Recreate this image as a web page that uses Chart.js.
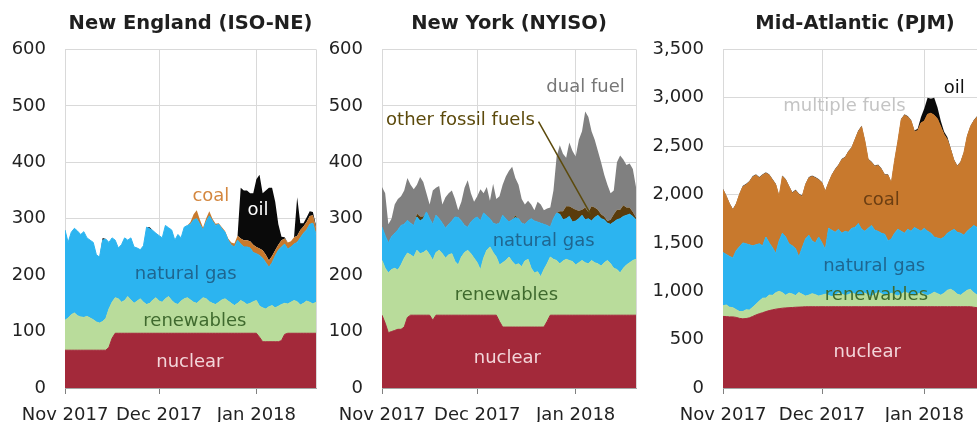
<!DOCTYPE html>
<html>
<head>
<meta charset="utf-8">
<script src="https://cdn.jsdelivr.net/npm/chart.js@4.4.1/dist/chart.umd.min.js"></script>
<style>
  html, body { margin: 0; padding: 0; background: #fff; overflow: hidden; width: 977px; height: 422px; }
  .panel { position: absolute; top: 0; }
</style>
</head>
<body>
<div class="panel" style="left:0px"><canvas id="ne" width="330" height="422"></canvas></div>
<div class="panel" style="left:318px"><canvas id="ny" width="332" height="422"></canvas></div>
<div class="panel" style="left:650px"><canvas id="pjm" width="350" height="422"></canvas></div>
<script>
// daily values, Nov 1 2017 -> Jan 20 2018 (one value per day)
const monthTicks = [0, 30, 61];
const monthLabels = ['Nov 2017', 'Dec 2017', 'Jan 2018'];

// New England (ISO-NE)
const neNuclear = [
  67,67,67,67,67,67,67,67,67,67,
  67,67,67,67,72,88,97,97,97,97,
  97,97,97,97,97,97,97,97,97,97,
  97,97,97,97,97,97,97,97,97,97,
  97,97,97,97,97,97,97,97,97,97,
  97,97,97,97,97,97,97,97,97,97,
  97,97,90,82,82,82,82,82,82,84,
  95,97,97,97,97,97,97,97,97,97,
  97];
const neRenew = [
  53,57,63,66,61,59,58,60,57,54,
  50,48,51,56,68,64,63,61,55,58,
  65,59,53,57,61,55,51,53,59,63,
  57,55,61,65,58,53,51,57,61,63,
  59,55,53,58,63,61,56,53,51,55,
  59,61,57,53,49,53,58,55,51,53,
  56,58,55,60,58,62,64,60,63,64,
  55,52,55,58,56,50,53,57,55,52,
  55];
const neGas = [
  160,134,146,150,150,146,152,139,138,137,
  119,117,144,141,118,114,102,90,102,111,
  100,110,100,94,87,100,137,132,123,114,
  116,114,130,122,125,112,124,112,127,128,
  134,146,150,135,120,137,152,146,140,138,
  126,118,108,103,104,112,100,98,102,98,
  87,83,90,88,82,70,76,92,99,102,
  105,97,98,100,105,119,124,126,138,143,
  120];
const neCoal = [
  0,0,0,0,0,0,0,0,0,0,
  0,0,0,0,0,0,0,0,0,0,
  0,0,0,0,0,0,0,0,0,0,
  0,0,0,0,0,0,0,0,0,0,
  4,10,15,8,4,6,8,4,3,2,
  3,2,3,5,6,8,10,12,12,12,
  14,12,12,14,14,12,12,10,10,12,
  10,12,10,12,12,14,12,14,15,14,
  12];
const neOil = [
  0,0,0,0,0,0,0,0,0,0,
  0,0,4,0,0,0,0,0,0,0,
  0,0,0,0,0,0,0,3,0,0,
  0,0,0,0,0,0,0,0,0,0,
  0,0,0,0,0,0,0,0,0,0,
  0,0,0,0,0,0,90,88,88,85,
  91,120,131,101,114,129,121,86,36,6,
  2,0,0,0,68,12,6,8,8,6,
  4];

// New York (NYISO)
const nyNuclear = [
  129,115,98,100,102,104,104,108,125,129,
  129,129,129,129,129,129,120,129,129,129,
  129,129,129,129,129,129,129,129,129,129,
  129,129,129,129,129,129,129,118,108,108,
  108,108,108,108,108,108,108,108,108,108,
  108,108,118,129,129,129,129,129,129,129,
  129,129,129,129,129,129,129,129,129,129,
  129,129,129,129,129,129,129,129,129,129,
  129];
const nyRenew = [
  97,97,106,110,110,105,114,122,114,107,
  103,115,109,111,115,107,106,111,115,109,
  101,107,109,95,89,103,111,115,109,101,
  93,80,101,115,121,111,103,100,114,118,
  124,116,110,112,107,117,120,104,96,98,
  89,102,102,103,99,97,91,96,99,97,
  95,89,93,97,93,91,97,93,91,87,
  93,97,91,83,81,75,83,89,93,97,
  99];
const nyGas = [
  59,58,53,58,62,71,70,60,58,56,
  56,59,58,60,68,64,64,66,56,54,
  53,54,58,79,84,64,48,41,56,70,
  81,87,80,61,50,52,58,74,84,74,
  62,74,84,80,77,65,68,88,92,88,
  95,80,68,53,72,84,88,73,72,78,
  70,78,78,80,76,80,70,80,86,84,
  76,66,70,82,88,96,92,88,86,78,
  70];
const nyOther = [
  0,0,0,0,0,0,0,0,0,0,
  0,6,8,4,0,0,0,0,0,0,
  0,0,0,0,0,0,0,0,0,0,
  0,0,0,0,0,0,0,0,0,0,
  0,0,4,0,0,0,0,0,0,0,
  0,0,0,0,0,0,5,15,22,18,
  25,20,14,10,22,12,26,18,10,8,
  6,4,8,14,18,16,20,14,12,8,
  4];
const nyDual = [
  71,75,33,32,51,55,52,60,75,68,
  64,51,70,61,33,25,60,49,58,33,
  55,55,54,32,13,34,67,83,51,30,
  37,56,35,51,32,70,45,48,54,75,
  91,94,66,60,43,35,36,25,19,36,
  33,25,30,35,50,100,117,102,86,113,
  101,94,126,139,170,168,133,120,104,92,
  74,64,47,42,84,96,81,75,78,76,
  54];

// Mid-Atlantic (PJM)
const pjmNuclear = [
  740,738,735,735,730,720,715,718,725,740,
  755,768,778,790,800,808,815,820,825,828,
  830,832,835,836,838,840,840,840,840,840,
  840,840,840,840,840,840,840,840,840,840,
  840,840,840,840,840,840,840,840,840,840,
  840,840,840,840,840,840,840,840,840,840,
  840,840,840,840,840,840,840,840,840,840,
  840,840,840,840,840,840,835,830,828,826,
  825];
const pjmRenew = [
  110,120,100,95,80,70,75,90,80,95,
  110,130,150,140,160,150,170,180,160,130,
  150,140,120,150,130,110,120,135,125,110,
  120,130,115,105,120,140,130,115,125,140,
  130,110,125,140,120,105,130,150,135,115,
  120,140,125,110,130,150,140,120,110,130,
  145,125,115,130,150,135,120,140,170,180,
  160,130,120,145,170,180,150,130,160,175,
  160];
const pjmGas = [
  550,522,525,515,610,670,710,682,675,635,
  615,592,542,630,540,492,405,520,615,602,
  510,498,485,369,482,590,620,545,535,610,
  540,460,695,685,650,660,630,665,645,670,
  690,750,675,640,690,735,660,630,625,635,
  560,560,635,690,650,610,660,660,710,670,
  635,685,665,630,570,575,580,580,590,600,
  640,640,640,595,610,630,695,700,652,659,
  695];
const pjmCoal = [
  650,600,540,495,480,540,580,610,650,710,
  720,680,730,660,700,700,710,460,585,590,
  590,542,600,645,528,560,590,665,670,590,
  620,600,470,570,645,660,760,760,830,830,
  906,950,1060,930,710,650,660,680,660,610,
  680,578,750,910,1153,1220,1160,1140,990,1020,
  1120,1110,1210,1240,1260,1230,1160,1060,966,840,
  710,680,730,850,980,1050,1080,1140,1170,1140,
  1110];
const pjmOil = [
  8,8,8,8,8,8,8,8,8,8,
  8,8,8,8,8,8,8,8,8,8,
  8,8,8,8,8,8,8,8,8,8,
  8,8,8,8,8,8,8,8,8,8,
  8,8,8,8,8,8,8,8,8,8,
  8,8,8,8,8,8,8,8,8,20,
  60,130,170,150,180,120,60,30,25,15,
  10,8,8,8,8,8,8,8,8,8,
  8];
const pjmMulti = [
  5,5,5,5,5,5,5,5,5,5,
  5,5,5,5,5,5,5,5,5,5,
  5,5,5,5,5,5,5,5,5,5,
  5,5,5,5,5,5,5,5,5,5,
  5,5,5,5,5,5,5,5,5,5,
  5,5,5,5,5,5,5,5,5,5,
  5,5,5,5,5,5,5,5,5,5,
  5,5,5,5,5,5,5,5,5,5,
  5];

const days = neNuclear.map((v, i) => i);
const lastDay = days.length - 1;

const C = {
  nuclear: '#a3293a', renew: '#b9dc9b', gas: '#2cb4f0', coal: '#c8792d',
  oil: '#0a0a0a', dual: '#808080', other: '#5a3c0c', multi: '#c8c8c8'
};

Chart.defaults.font.family = '"DejaVu Sans", "Liberation Sans", sans-serif';
Chart.defaults.font.size = 18;

function notesPlugin(notes, leader) {
  return {
    id: 'notes',
    afterDatasetsDraw(chart) {
      const ctx = chart.ctx;
      const xs = chart.scales.x, ys = chart.scales.y;
      ctx.save();
      if (leader) {
        ctx.strokeStyle = leader.color;
        ctx.lineWidth = 1.5;
        ctx.beginPath();
        ctx.moveTo(xs.getPixelForValue(leader.from[0]), ys.getPixelForValue(leader.from[1]));
        ctx.lineTo(xs.getPixelForValue(leader.to[0]), ys.getPixelForValue(leader.to[1]));
        ctx.stroke();
      }
      ctx.font = '18px "DejaVu Sans"';
      ctx.textAlign = 'center';
      ctx.textBaseline = 'middle';
      notes.forEach(n => {
        ctx.fillStyle = n.color;
        ctx.fillText(n.text, xs.getPixelForValue(n.day), ys.getPixelForValue(n.value));
      });
      ctx.restore();
    }
  };
}

function makeChart(id, o) {
  const datasets = o.series.map((s, i) => ({
    label: s.label,
    data: s.data,
    backgroundColor: s.color,
    borderColor: s.color,
    borderWidth: s.edge ? 1 : 0,
    fill: i === 0 ? 'origin' : '-1',
    pointRadius: 0,
    tension: 0
  }));
  return new Chart(document.getElementById(id), {
    type: 'line',
    data: { labels: days, datasets: datasets },
    options: {
      responsive: false,
      animation: false,
      layout: { padding: { left: 0, right: o.padRight, top: 0, bottom: 0 } },
      plugins: {
        legend: { display: false },
        tooltip: { enabled: false },
        title: {
          display: true, text: o.title, fullSize: false, color: '#1f1f1f',
          font: { size: 19.5, weight: 'bold' }, padding: { top: 12, bottom: 14 }
        }
      },
      scales: {
        x: {
          type: 'linear', min: 0, max: lastDay,
          afterBuildTicks: s => { s.ticks = monthTicks.map(v => ({ value: v })).concat([{ value: lastDay }]); },
          afterFit: s => { s.height = 34; },
          grid: {
            color: '#d9d9d9', tickLength: 6,
            tickColor: c => (c.tick && c.tick.value === lastDay) ? 'rgba(0,0,0,0)' : '#808080'
          },
          border: { display: true, color: '#a6a6a6' },
          ticks: {
            autoSkip: false, maxRotation: 0, padding: 11, color: '#222',
            callback: v => { const k = monthTicks.indexOf(v); return k >= 0 ? monthLabels[k] : ''; }
          }
        },
        y: {
          stacked: true, min: 0, max: o.yMax,
          afterFit: s => { s.width = o.axisW; },
          grid: { color: '#d9d9d9', drawTicks: false },
          border: { display: false },
          ticks: { stepSize: o.step, padding: 19, color: '#222', autoSkip: false }
        }
      }
    },
    plugins: [notesPlugin(o.notes, o.leader)]
  });
}

makeChart('ne', {
  title: 'New England (ISO-NE)', yMax: 600, step: 100, axisW: 65, padRight: 14,
  series: [
    { label: 'nuclear', data: neNuclear, color: C.nuclear, edge: true },
    { label: 'renewables', data: neRenew, color: C.renew, edge: true },
    { label: 'natural gas', data: neGas, color: C.gas, edge: true },
    { label: 'coal', data: neCoal, color: C.coal },
    { label: 'oil', data: neOil, color: C.oil }
  ],
  notes: [
    { text: 'coal', day: 46.5, value: 340, color: '#d4873f' },
    { text: 'oil', day: 61.5, value: 315, color: '#ffffff' },
    { text: 'natural gas', day: 38.5, value: 202, color: '#1f6690' },
    { text: 'renewables', day: 41.4, value: 119, color: '#3f6a2e' },
    { text: 'nuclear', day: 39.8, value: 46, color: '#f3d6da' }
  ]
});

makeChart('ny', {
  title: 'New York (NYISO)', yMax: 600, step: 100, axisW: 64, padRight: 14,
  series: [
    { label: 'nuclear', data: nyNuclear, color: C.nuclear, edge: true },
    { label: 'renewables', data: nyRenew, color: C.renew, edge: true },
    { label: 'natural gas', data: nyGas, color: C.gas, edge: true },
    { label: 'other fossil fuels', data: nyOther, color: C.other },
    { label: 'dual fuel', data: nyDual, color: C.dual }
  ],
  notes: [
    { text: 'dual fuel', day: 64.1, value: 533, color: '#777777' },
    { text: 'other fossil fuels', day: 24.7, value: 474, color: '#5c4a0c' },
    { text: 'natural gas', day: 50.9, value: 260, color: '#1f6690' },
    { text: 'renewables', day: 39.2, value: 165, color: '#3f6a2e' },
    { text: 'nuclear', day: 39.5, value: 53, color: '#f3d6da' }
  ],
  leader: { from: [49.3, 472], to: [65.7, 308], color: '#5c4a0c' }
});

makeChart('pjm', {
  title: 'Mid-Atlantic (PJM)', yMax: 3500, step: 500, axisW: 73, padRight: 13,
  series: [
    { label: 'nuclear', data: pjmNuclear, color: C.nuclear, edge: true },
    { label: 'renewables', data: pjmRenew, color: C.renew, edge: true },
    { label: 'natural gas', data: pjmGas, color: C.gas, edge: true },
    { label: 'coal', data: pjmCoal, color: C.coal, edge: true },
    { label: 'oil', data: pjmOil, color: C.oil },
    { label: 'multiple fuels', data: pjmMulti, color: C.multi }
  ],
  notes: [
    { text: 'oil', day: 70.1, value: 3096, color: '#111111' },
    { text: 'multiple fuels', day: 36.8, value: 2910, color: '#c4c4c4' },
    { text: 'coal', day: 48, value: 1940, color: '#6b3e12' },
    { text: 'natural gas', day: 45.8, value: 1259, color: '#1f6690' },
    { text: 'renewables', day: 46.5, value: 960, color: '#3f6a2e' },
    { text: 'nuclear', day: 43.7, value: 372, color: '#f3d6da' }
  ]
});
</script>
</body>
</html>
